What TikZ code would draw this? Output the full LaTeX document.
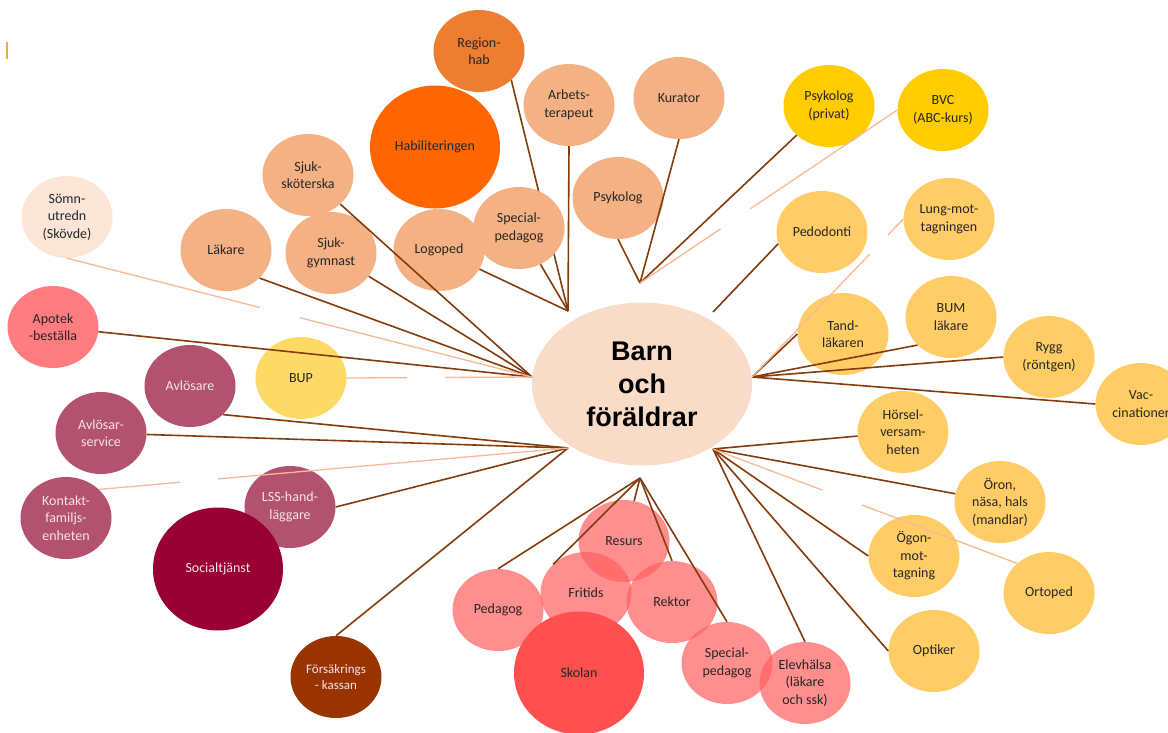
\documentclass[tikz,border=0pt]{standalone}
\usepackage{fontspec}
\setmainfont{Carlito}
\newfontfamily\barnfont{Liberation Sans}
\usetikzlibrary{shapes.geometric}

\definecolor{linkbrown}{HTML}{843C0C}
\definecolor{linklight}{HTML}{F9B896}
\definecolor{tickorange}{HTML}{F2A93B}
\definecolor{habmid}{HTML}{ED7D31}
\definecolor{habstrong}{HTML}{FF6600}
\definecolor{habpale}{HTML}{F4B183}
\definecolor{sleeppale}{HTML}{FBE5D6}
\definecolor{apotekpink}{HTML}{FF7C80}
\definecolor{bupyellow}{HTML}{FFD966}
\definecolor{socmauve}{HTML}{B3526F}
\definecolor{socdark}{HTML}{990033}
\definecolor{kassabrown}{HTML}{993300}
\definecolor{soctext}{HTML}{F6E2EA}
\definecolor{schoolpink}{HTML}{FF5F5F}
\definecolor{schoolred}{HTML}{FF4F4F}
\definecolor{bvcgold}{HTML}{FFCC00}
\definecolor{carelight}{HTML}{FFCC66}
\definecolor{barnpeach}{HTML}{F9DCC7}

\pgfdeclarelayer{back}
\pgfsetlayers{back,main}

\begin{document}
\begin{tikzpicture}[
  x=1pt, y=-1pt,
  bubble/.style={ellipse, inner sep=0pt, minimum width=91pt, minimum height=82pt,
    align=center, font=\fontsize{14}{17.5}\selectfont, text=black!85},
  bigbubble/.style={bubble, minimum width=130pt, minimum height=123pt},
  habbubble/.style={bubble, fill=habpale},
  socbubble/.style={bubble, fill=socmauve, text=soctext},
  schoolbubble/.style={bubble, fill=schoolpink, fill opacity=0.7, text opacity=1},
  carebubble/.style={bubble, fill=carelight},
  link/.style={draw=linkbrown, line width=1.6pt},
  faint/.style={draw=linklight, line width=1.3pt}
]
\begin{pgfonlayer}{back}
\fill[white] (0,0) rectangle (1168,732);
\end{pgfonlayer}
\useasboundingbox (0,0) rectangle (1168,732);

\draw[tickorange, line width=1.2pt] (7,42) -- (7,59);

% habilitering
\node[bubble, fill=habmid] (reghab) at (479,51) {Region-\\hab};
\node[habbubble] (arbets) at (569,105) {Arbets-\\terapeut};
\node[habbubble] (kurator) at (679,98) {Kurator};
\node[bigbubble, fill=habstrong] (hab) at (435,147) {Habiliteringen};
\node[habbubble] (psykolog) at (618,198) {Psykolog};
\node[habbubble] (specped) at (519,228) {Special-\\pedagog};
\node[habbubble] (logoped) at (439,250) {Logoped};
\node[habbubble] (sjukskot) at (308,175) {Sjuk-\\sköterska};
\node[habbubble] (lakare) at (226,250) {Läkare};
\node[habbubble] (sjukgym) at (331,253) {Sjuk-\\gymnast};
\node[bubble, fill=sleeppale] (somn) at (67,217) {Sömn-\\utredn\\(Skövde)};
\node[bubble, fill=apotekpink] (apotek) at (53,327) {Apotek\\-beställa};
\node[bubble, fill=bupyellow] (bup) at (301,378) {BUP};

% socialtjanst
\node[socbubble] (avlos) at (190,386) {Avlösare};
\node[socbubble] (avlser) at (101,433) {Avlösar-\\service};
\node[socbubble] (kontakt) at (66,518) {Kontakt-\\familjs-\\enheten};
\node[socbubble] (lss) at (290,507) {LSS-hand-\\läggare};
\node[bigbubble, fill=socdark, text=soctext] (social) at (218,569) {Socialtjänst};
\node[bubble, fill=kassabrown, text=soctext, font=\fontsize{13}{16}\selectfont] (forsak) at (336,677) {Försäkrings\\- kassan};

% skolan
\node[schoolbubble] (pedagog) at (498,610) {Pedagog};
\node[schoolbubble] (fritids) at (586,593) {Fritids};
\node[schoolbubble] (resurs) at (624,541) {Resurs};
\node[schoolbubble] (rektor) at (672,602) {Rektor};
\node[schoolbubble] (specped2) at (727,663) {Special-\\pedagog};
\node[schoolbubble] (elev) at (805,683) {Elevhälsa\\(läkare\\och ssk)};
\node[bigbubble, fill=schoolred] (skolan) at (579,673) {Skolan};

% vard
\node[bubble, fill=bvcgold] (psykpriv) at (829,106) {Psykolog\\(privat)};
\node[bubble, fill=bvcgold] (bvc) at (943,110) {BVC\\(ABC-kurs)};
\node[carebubble] (pedodonti) at (822,232) {Pedodonti};
\node[carebubble] (lung) at (949,219) {Lung-mot-\\tagningen};
\node[carebubble] (tand) at (843,334) {Tand-\\läkaren};
\node[carebubble] (bum) at (951,317) {BUM\\läkare};
\node[carebubble] (rygg) at (1049,357) {Rygg\\(röntgen)};
\node[carebubble] (vac) at (1141,404) {Vac-\\cinationer};
\node[carebubble] (horsel) at (903,432) {Hörsel-\\versam-\\heten};
\node[carebubble] (oron) at (1000,502) {Öron,\\näsa, hals\\(mandlar)};
\node[carebubble] (ogon) at (914,556) {Ögon-\\mot-\\tagning};
\node[carebubble] (ortoped) at (1049,593) {Ortoped};
\node[carebubble] (optiker) at (934,651) {Optiker};

% where the lines meet
\coordinate (hubtop) at (568,311);
\coordinate (hubleft) at (532,377);
\coordinate (hublow) at (568,448);
\coordinate (hubbottom) at (640,478);
\coordinate (hubright) at (713,449);
\coordinate (hubup) at (640,283);
\coordinate (hubeast) at (752,377);
\coordinate (pedoend) at (713,312);

\begin{pgfonlayer}{back}
\draw[link] (reghab.-42) -- (hubtop);
\end{pgfonlayer}
\draw[link] (arbets.south) -- (hubtop);
\draw[link] (specped) -- (hubtop);
\draw[link] (logoped) -- (hubtop);

\draw[link] (sjukskot) -- (hubleft);
\draw[link] (lakare.-40) -- (hubleft);
\draw[link] (sjukgym) -- (hubleft);
\draw[link] (apotek) -- (hubleft);
\draw[faint, dash pattern=on 199pt off 41pt on 400pt] (somn.south) -- (hubleft);
\draw[faint, dash pattern=on 60.5pt off 38pt on 200pt] (bup.east) -- (hubleft);

\draw[link] (avlos.-41) -- (hublow);
\draw[link] (avlser) -- (hublow);
\draw[link] (lss.east) -- (hublow);
\draw[link] (forsak.north) -- (hublow);
\draw[faint, dash pattern=on 81.6pt off 38.2pt on 400pt] (kontakt.41) -- (hublow);

\draw[link] (pedagog.north) -- (hubbottom);
\draw[link] (fritids.139) -- (hubbottom);
\draw[link] (resurs) -- (hubbottom);
\draw[link] (rektor.north) -- (hubbottom);
\draw[link] (specped2.north) -- (hubbottom);

\draw[link] (horsel) -- (hubright);
\draw[link] (oron) -- (hubright);
\draw[link] (ogon.west) -- (hubright);
\draw[link] (optiker.west) -- (hubright);
\draw[link] (elev.north) -- (hubright);
\draw[faint, dash pattern=on 117pt off 42pt on 300pt] (hubright) -- (ortoped.137);

\draw[link] (psykolog.south) -- (hubup);
\draw[link] (kurator.south) -- (hubup);
\draw[link] (psykpriv.222) -- (hubup);
\draw[faint, dash pattern=on 177pt off 36pt on 200pt] (bvc.west) -- (hubup);

\draw[link] (tand.west) -- (hubeast);
\draw[link] (bum.220) -- (hubeast);
\draw[link] (rygg.west) -- (hubeast);
\draw[link] (vac.west) -- (hubeast);
\draw[faint, dash pattern=on 22.4pt off 26pt on 200pt] (lung.west) -- (hubeast);
\draw[link] (pedodonti.195) -- (pedoend);

\node[ellipse, fill=barnpeach, inner sep=0pt, minimum width=220pt, minimum height=163pt,
  align=center, font=\barnfont\bfseries\fontsize{27}{33}\selectfont] (barn) at (642,384) {Barn\\och\\föräldrar};
\end{tikzpicture}
\end{document}
